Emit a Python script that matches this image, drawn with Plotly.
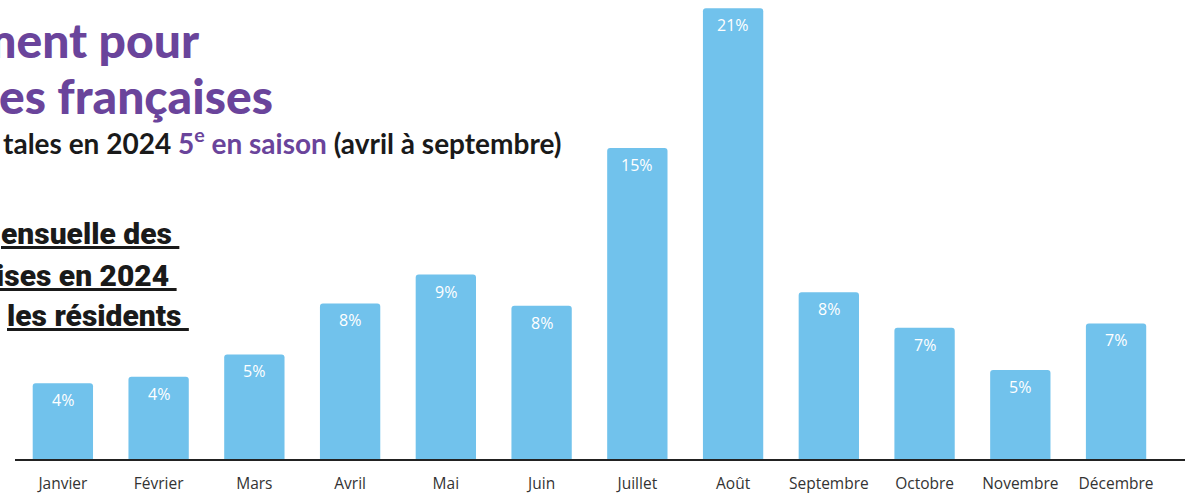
import plotly.graph_objects as go

# monthly share of French overnight stays, 2024
months = ["Janvier", "Février", "Mars", "Avril", "Mai", "Juin",
          "Juillet", "Août", "Septembre", "Octobre", "Novembre", "Décembre"]
shares = [4.1, 4.4, 5.4, 7.7, 9.0, 7.6, 14.7, 21.0, 8.2, 6.6, 4.7, 6.8]
labels = ["4%", "4%", "5%", "8%", "9%", "8%", "15%", "21%", "8%", "7%", "5%", "7%"]

title_lines = ["ment pour", "es françaises"]
subtitle = ("tales en 2024 <span style='color:#6A449B'>5<sup>e</sup> en saison</span>"
            " (avril à septembre)")
block_lines = ["ensuelle des", "ises en 2024", "les résidents"]

W, H = 1185, 493
ML, MR, MT, MB = 15, 0, 0, 34
PW, PH = W - ML - MR, H - MT - MB

BLUE = "#71C2EC"
PURPLE = "#6A449B"


def px_x(p):
    return (p - ML) / PW


def px_y(p):
    return (H - MB - p) / PH


fig = go.Figure()
fig.add_trace(go.Bar(
    x=months, y=shares,
    marker=dict(color=BLUE, cornerradius=3, line=dict(width=0)),
    hoverinfo="skip",
))

# value labels inside the top of each bar
for m, v, t in zip(months, shares, labels):
    fig.add_annotation(x=m, y=v, xref="x", yref="y", text=t, showarrow=False,
                       yanchor="top", yshift=-4,
                       font=dict(family="Open Sans", size=16, color="white"))

# cropped headline on the left
for txt, yc, xr in zip(title_lines, [40, 95], [201, 275]):
    fig.add_annotation(x=px_x(xr), y=px_y(yc), xref="paper", yref="paper",
                       xanchor="right", yanchor="middle", showarrow=False,
                       text=txt,
                       font=dict(family="Lato", size=48, weight=900, color=PURPLE))

fig.add_annotation(x=px_x(563), y=px_y(141), xref="paper", yref="paper",
                   xanchor="right", yanchor="middle", showarrow=False,
                   text="<b>" + subtitle + "</b>",
                   font=dict(family="Lato", size=28, color="#1a1a1a"))

for txt, yc, xr in zip(block_lines, [234, 275, 316], [181, 179, 191]):
    fig.add_annotation(x=px_x(xr), y=px_y(yc), xref="paper", yref="paper",
                       xanchor="right", yanchor="middle", showarrow=False,
                       text="<u>" + txt + "\u00a0</u>",
                       font=dict(family="Roboto", size=30, weight=900, color="#1a1a1a"))

fig.update_layout(
    width=W, height=H,
    margin=dict(l=ML, r=MR, t=MT, b=MB),
    paper_bgcolor="white", plot_bgcolor="white",
    bargap=0.37, showlegend=False,
    xaxis=dict(range=[-0.5, 11.72], showline=True, linecolor="#222", linewidth=2,
               showgrid=False, ticks="", ticklabelstandoff=9,
               tickfont=dict(family="Open Sans", size=15.5, color="#333")),
    yaxis=dict(range=[0.69, 21.37], visible=False, showgrid=False, zeroline=False),
)

fig.write_html("out.html", config={"displayModeBar": False},
               post_script="document.body.style.margin='0';")
